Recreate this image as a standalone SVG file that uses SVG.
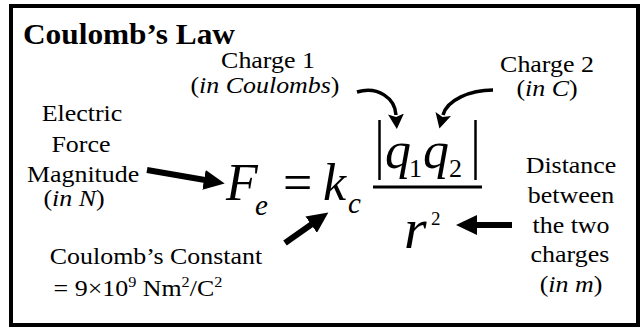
<svg xmlns="http://www.w3.org/2000/svg" width="642" height="328" viewBox="0 0 642 328">
<style>
text{font-family:"Liberation Serif","Times New Roman",serif;fill:#000}
.lbl{font-size:24px;text-anchor:middle}
.it{font-style:italic}
.sup{font-size:15px}
.thick{stroke:#000;stroke-width:6;fill:none}
.thin{stroke:#000;stroke-width:3.5;fill:none}
</style>
<defs>
<marker id="ah" markerUnits="userSpaceOnUse" markerWidth="22" markerHeight="20" refX="1" refY="10" orient="auto" viewBox="0 0 22 20">
<path d="M0,0 L21,10 L0,20 Z" fill="#000"/>
</marker>
<marker id="ahs" markerUnits="userSpaceOnUse" markerWidth="16" markerHeight="16" refX="1" refY="8" orient="auto" viewBox="0 0 16 16">
<path d="M0,0 L15,8 L0,16 L3,8 Z" fill="#000"/>
</marker>
</defs>
<rect x="11" y="6" width="627" height="319" fill="#fff" stroke="#000" stroke-width="4"/>

<g id="title"><text transform="translate(23,44) scale(1.08,1)" style="font-size:29px;font-weight:bold">Coulomb’s Law</text></g>

<g id="charge1">
<text class="lbl" transform="translate(268,0) scale(1.08,1)"><tspan x="0" y="68">Charge 1</tspan><tspan x="-2.8" y="93">(<tspan class="it">in Coulombs</tspan>)</tspan></text>
</g>
<g id="charge2">
<text class="lbl" transform="translate(547,0) scale(1.08,1)"><tspan x="0" y="72">Charge 2</tspan><tspan x="0" y="96">(<tspan class="it">in C</tspan>)</tspan></text>
</g>
<g id="force">
<text class="lbl" transform="translate(82,0) scale(1.08,1)"><tspan x="0" y="121">Electric</tspan><tspan x="-1" y="152">Force</tspan><tspan x="1" y="182">Magnitude</tspan><tspan x="-7.4" y="206">(<tspan class="it">in N</tspan>)</tspan></text>
</g>
<g id="constant">
<text class="lbl" transform="translate(156,0) scale(1.08,1)"><tspan x="0" y="264">Coulomb’s Constant</tspan><tspan x="-16.7" y="296">= 9×10<tspan dy="-9" class="sup">9</tspan><tspan dy="9"> Nm</tspan><tspan dy="-9" class="sup">2</tspan><tspan dy="9">/C</tspan><tspan dy="-9" class="sup">2</tspan></tspan></text>
</g>
<g id="distance">
<text class="lbl" transform="translate(571,0) scale(1.08,1)"><tspan x="0" y="173">Distance</tspan><tspan x="0" y="203">between</tspan><tspan x="0" y="233">the two</tspan><tspan x="-1" y="262">charges</tspan><tspan x="0" y="292">(<tspan class="it">in m</tspan>)</tspan></text>
</g>

<g id="formula">
<text style="font-size:52px;font-style:italic"><tspan x="226" y="200">F</tspan><tspan x="255" y="215" style="font-size:29px">e</tspan><tspan x="283" y="200" style="font-style:normal">=</tspan><tspan x="323" y="200">k</tspan><tspan x="348" y="213" style="font-size:29px">c</tspan><tspan x="385" y="168">q</tspan><tspan x="409" y="177" style="font-size:26px;font-style:normal">1</tspan><tspan x="423" y="168">q</tspan><tspan x="449" y="177" style="font-size:26px;font-style:normal">2</tspan><tspan x="404" y="248" style="font-size:58px">r</tspan><tspan x="431" y="225" style="font-size:19px;font-style:normal">2</tspan></text>
<line x1="379.5" y1="120" x2="379.5" y2="180" stroke="#000" stroke-width="2.5"/>
<line x1="475.5" y1="120" x2="475.5" y2="180" stroke="#000" stroke-width="2.5"/>
<line x1="373" y1="187" x2="482" y2="187" stroke="#000" stroke-width="3"/>
</g>

<g id="connectors">
<path class="thick" d="M147,170 L205,180" marker-end="url(#ah)"/>
<path class="thick" d="M285,243 L312,224" marker-end="url(#ah)"/>
<path class="thick" d="M512,225 L476,225" marker-end="url(#ah)"/>
<path class="thin" d="M357,92 C378,86 395,98 396,115" marker-end="url(#ahs)"/>
<path class="thin" d="M493,90 C470,90 447,100 443,115" marker-end="url(#ahs)"/>
</g>
</svg>
